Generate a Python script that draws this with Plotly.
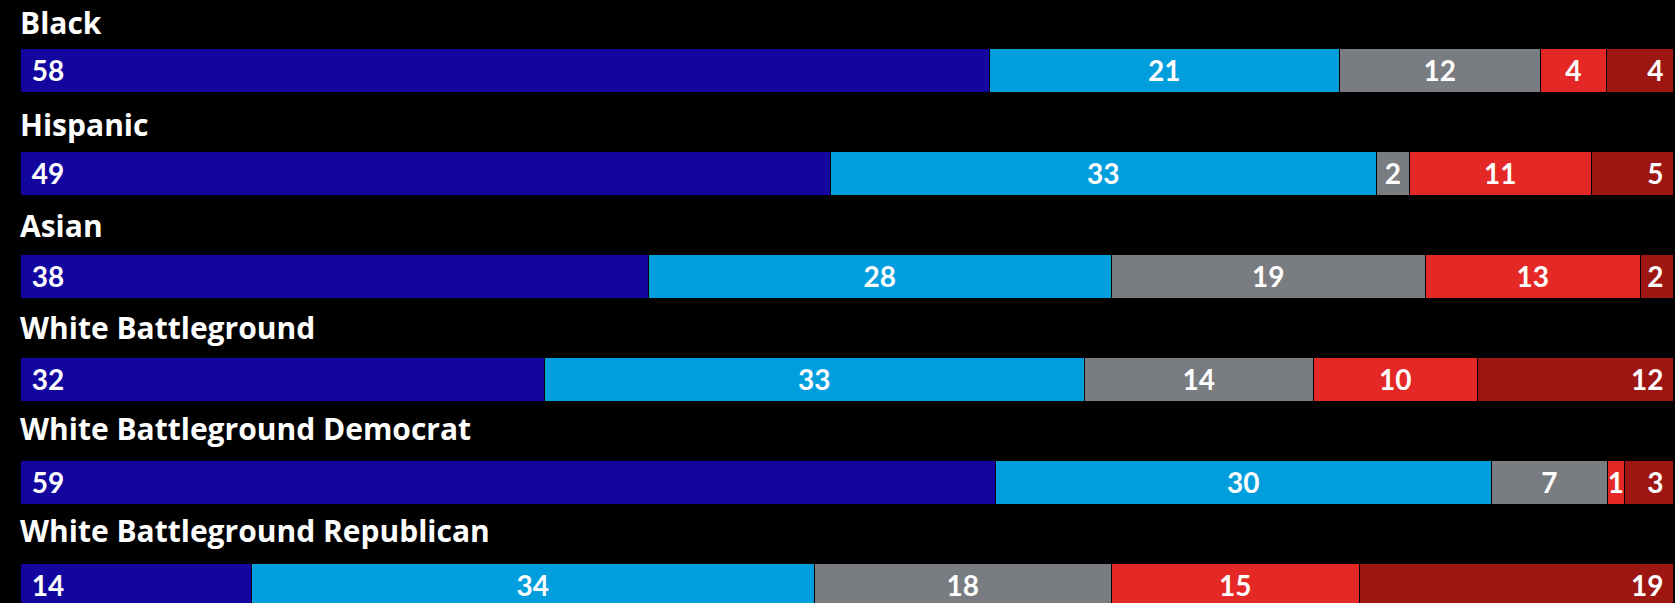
import plotly.graph_objects as go

groups = ["Black", "Hispanic", "Asian", "White Battleground",
          "White Battleground Democrat", "White Battleground Republican"]
seg1 = [58, 49, 38, 32, 59, 14]
seg2 = [21, 33, 28, 33, 30, 34]
seg3 = [12, 2, 19, 14, 7, 18]
seg4 = [4, 11, 13, 10, 1, 15]
seg5 = [4, 5, 2, 12, 3, 19]
series_names = ["Segment 1", "Segment 2", "Segment 3", "Segment 4", "Segment 5"]

series = [seg1, seg2, seg3, seg4, seg5]
colors = ["#12069F", "#009EDD", "#797C80", "#E42825", "#9E1611"]
anchors = ["start", "middle", "middle", "middle", "end"]
totals = [sum(s[i] for s in series) for i in range(len(groups))]

fig = go.Figure()
for name, vals, col, anc in zip(series_names, series, colors, anchors):
    shares = [v / t * 100 for v, t in zip(vals, totals)]
    if anc == "start":
        txt = ["&nbsp;&#8202;" + str(v) for v in vals]
    elif anc == "end":
        txt = [str(v) + "&nbsp;" for v in vals]
    else:
        txt = [str(v) for v in vals]
    fig.add_trace(go.Bar(
        y=groups, x=shares, orientation="h", name=name,
        marker=dict(color=col, line=dict(color="#000000", width=1.5)),
        width=0.421,
        text=txt, textposition="inside", insidetextanchor=anc,
        textangle=0, constraintext="none", cliponaxis=False,
        textfont=dict(family="Lato", size=28, color="white", weight="bold"),
        hoverinfo="skip",
    ))

# group titles
for i, g in enumerate(groups):
    fig.add_annotation(
        x=0, y=i, xref="x", yref="y2", text="<b>" + g + "</b>",
        xanchor="left", yanchor="bottom", showarrow=False, xshift=-3,
        font=dict(family="Open Sans", size=30, color="white"),
    )

p0 = 45.0
pitch = 101.6
fig.update_layout(
    barmode="stack",
    width=1675, height=603,
    margin=dict(l=21, r=0, t=0, b=0),
    paper_bgcolor="black", plot_bgcolor="black",
    showlegend=False,
    bargap=0,
    xaxis=dict(range=[0, 100.05], visible=False, fixedrange=True),
    yaxis=dict(categoryorder="array", categoryarray=groups,
               range=[5.165, -0.689], visible=False, fixedrange=True),
    yaxis2=dict(overlaying="y", visible=False,
                range=[(603 - p0) / pitch, -p0 / pitch]),
)
fig.write_html(
    "out.html",
    config={"displayModeBar": False},
    post_script="document.body.style.margin='0';document.body.style.background='black';",
)
